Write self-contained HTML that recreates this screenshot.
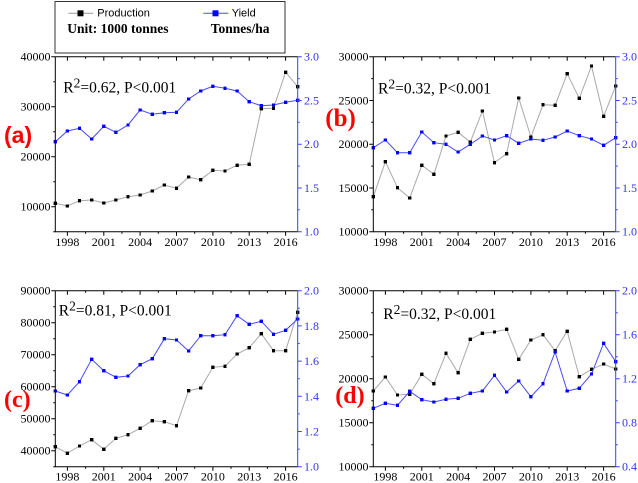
<!DOCTYPE html>
<html>
<head>
<meta charset="utf-8">
<style>
html,body{margin:0;padding:0;background:#fff;}
svg{display:block;}
.tk{font-family:"Liberation Serif",serif;font-size:12px;fill:#000;}
.tr{font-family:"Liberation Serif",serif;font-size:12px;fill:#3333ff;}
.r2{font-family:"Liberation Serif",serif;font-size:15.5px;fill:#000;}
</style>
</head>
<body>
<svg width="638" height="483" viewBox="0 0 638 483" xmlns="http://www.w3.org/2000/svg">
<defs>
<marker id="mk" markerWidth="3.4" markerHeight="3.4" refX="1.7" refY="1.7" markerUnits="userSpaceOnUse"><rect width="3.4" height="3.4" fill="#000"/></marker>
<marker id="mb" markerWidth="3.4" markerHeight="3.4" refX="1.7" refY="1.7" markerUnits="userSpaceOnUse"><rect width="3.4" height="3.4" fill="#0000ff"/></marker>
</defs>

<!-- Legend -->
<rect x="55" y="1.5" width="230" height="51.5" fill="#fff" stroke="#333" stroke-width="1"/>
<line x1="68.3" y1="13.3" x2="93.3" y2="13.3" stroke="#999" stroke-width="1"/>
<rect x="77.5" y="10.3" width="6" height="6" fill="#000"/>
<text x="97.3" y="16.7" font-family="Liberation Sans, sans-serif" font-size="11px" fill="#000">Production</text>
<line x1="203.3" y1="13.3" x2="228.3" y2="13.3" stroke="#4a4aff" stroke-width="1"/>
<rect x="212.5" y="10.3" width="6" height="6" fill="#0000ff"/>
<text x="231.7" y="16.7" font-family="Liberation Sans, sans-serif" font-size="11px" fill="#000">Yield</text>
<text x="67.3" y="33" font-family="Liberation Serif, serif" font-weight="bold" font-size="13.5px" fill="#000">Unit: 1000 tonnes</text>
<text x="210.7" y="33" font-family="Liberation Serif, serif" font-weight="bold" font-size="13.5px" fill="#000">Tonnes/ha</text>

<!-- ============ Panel (a) ============ -->
<g>
<polyline fill="none" stroke="#a9a9a9" stroke-width="1" marker-start="url(#mk)" marker-mid="url(#mk)" marker-end="url(#mk)" points="55.3,203.3 67.4,206 79.5,200.7 91.7,200 103.8,203 115.9,200 128,196.7 140.1,195 152.3,191 164.4,185 176.5,188.3 188.6,177 200.7,179.7 212.9,170.3 225,171 237.1,165.3 249.2,164.3 261.3,108.7 273.5,108.3 285.6,72.3 297.7,86.7"/>
<polyline fill="none" stroke="#4a4aff" stroke-width="1" marker-start="url(#mb)" marker-mid="url(#mb)" marker-end="url(#mb)" points="55.3,141.7 67.4,131 79.5,128.3 91.7,139 103.8,126.3 115.9,132.3 128,125 140.1,110 152.3,114.3 164.4,112.7 176.5,112.3 188.6,99 200.7,91 212.9,86.3 225,88.3 237.1,91 249.2,101.7 261.3,105.7 273.5,105 285.6,102.3 297.7,100.3"/>
<path d="M55.3 56.7V231.7H297.7 M55.3 56.7H297.7" fill="none" stroke="#000" stroke-width="1"/>
<path d="M51.3 206.7H55.3M51.3 156.7H55.3M51.3 106.7H55.3M51.3 56.7H55.3M53.3 231.7H55.3M53.3 181.7H55.3M53.3 131.7H55.3M53.3 81.7H55.3
M67.4 231.7V235.7M103.8 231.7V235.7M140.1 231.7V235.7M176.5 231.7V235.7M212.9 231.7V235.7M249.2 231.7V235.7M285.6 231.7V235.7
M85.6 231.7V233.7M121.95 231.7V233.7M158.3 231.7V233.7M194.7 231.7V233.7M231.05 231.7V233.7M267.4 231.7V233.7
M67.4 56.7V60.7M103.8 56.7V60.7M140.1 56.7V60.7M176.5 56.7V60.7M212.9 56.7V60.7M249.2 56.7V60.7M285.6 56.7V60.7
M85.6 56.7V58.7M121.95 56.7V58.7M158.3 56.7V58.7M194.7 56.7V58.7M231.05 56.7V58.7M267.4 56.7V58.7" fill="none" stroke="#000" stroke-width="1"/>
<path d="M297.7 56.7V231.7M297.7 231.7H301.7M297.7 187.95H301.7M297.7 144.2H301.7M297.7 100.45H301.7M297.7 56.7H301.7M297.7 209.8H299.7M297.7 166.1H299.7M297.7 122.3H299.7M297.7 78.6H299.7" fill="none" stroke="#3c3cff" stroke-width="1"/>
<g class="tk" text-anchor="end">
<text x="50.5" y="60.7">40000</text><text x="50.5" y="110.7">30000</text><text x="50.5" y="160.7">20000</text><text x="50.5" y="210.7">10000</text>
</g>
<g class="tr">
<text x="304" y="60.7">3.0</text><text x="304" y="104.5">2.5</text><text x="304" y="148.2">2.0</text><text x="304" y="192">1.5</text><text x="304" y="235.7">1.0</text>
</g>
<g class="tk" text-anchor="middle">
<text x="67.4" y="246">1998</text><text x="103.8" y="246">2001</text><text x="140.1" y="246">2004</text><text x="176.5" y="246">2007</text><text x="212.9" y="246">2010</text><text x="249.2" y="246">2013</text><text x="285.6" y="246">2016</text>
</g>
<text class="r2" x="63.3" y="92.3">R<tspan dy="-5" font-size="13.5px">2</tspan><tspan dy="5">=0.62, P&lt;0.001</tspan></text>
<text x="4" y="143" font-family="Liberation Sans, sans-serif" font-weight="bold" font-size="23px" fill="#ff0000">(a)</text>
</g>

<!-- ============ Panel (b) ============ -->
<g transform="translate(318,0)">
<polyline fill="none" stroke="#a9a9a9" stroke-width="1" marker-start="url(#mk)" marker-mid="url(#mk)" marker-end="url(#mk)" points="55.3,196.7 67.4,161.7 79.5,187.7 91.7,198 103.8,165.3 115.9,174.3 128,136 140.1,132.3 152.3,142 164.4,111 176.5,162.7 188.6,153.7 200.7,98 212.9,137 225,104.7 237.1,105.3 249.2,73.7 261.3,98.3 273.5,66 285.6,116.3 297.7,86"/>
<polyline fill="none" stroke="#4a4aff" stroke-width="1" marker-start="url(#mb)" marker-mid="url(#mb)" marker-end="url(#mb)" points="55.3,147.7 67.4,140 79.5,152.7 91.7,152.7 103.8,132 115.9,142.7 128,144.3 140.1,152 152.3,144.3 164.4,136 176.5,140 188.6,135.7 200.7,143.3 212.9,139 225,140.3 237.1,137 249.2,131 261.3,135.7 273.5,139 285.6,145.3 297.7,137.7"/>
<path d="M55.3 56.7V231.7H297.7 M55.3 56.7H297.7" fill="none" stroke="#000" stroke-width="1"/>
<path d="M51.3 231.7H55.3M51.3 187.95H55.3M51.3 144.2H55.3M51.3 100.45H55.3M51.3 56.7H55.3M53.3 209.8H55.3M53.3 166.1H55.3M53.3 122.3H55.3M53.3 78.6H55.3
M67.4 231.7V235.7M103.8 231.7V235.7M140.1 231.7V235.7M176.5 231.7V235.7M212.9 231.7V235.7M249.2 231.7V235.7M285.6 231.7V235.7
M85.6 231.7V233.7M121.95 231.7V233.7M158.3 231.7V233.7M194.7 231.7V233.7M231.05 231.7V233.7M267.4 231.7V233.7
M67.4 56.7V60.7M103.8 56.7V60.7M140.1 56.7V60.7M176.5 56.7V60.7M212.9 56.7V60.7M249.2 56.7V60.7M285.6 56.7V60.7
M85.6 56.7V58.7M121.95 56.7V58.7M158.3 56.7V58.7M194.7 56.7V58.7M231.05 56.7V58.7M267.4 56.7V58.7" fill="none" stroke="#000" stroke-width="1"/>
<path d="M297.7 56.7V231.7M297.7 231.7H301.7M297.7 187.95H301.7M297.7 144.2H301.7M297.7 100.45H301.7M297.7 56.7H301.7M297.7 209.8H299.7M297.7 166.1H299.7M297.7 122.3H299.7M297.7 78.6H299.7" fill="none" stroke="#3c3cff" stroke-width="1"/>
<g class="tk" text-anchor="end">
<text x="50.5" y="60.7">30000</text><text x="50.5" y="104.5">25000</text><text x="50.5" y="148.2">20000</text><text x="50.5" y="192">15000</text><text x="50.5" y="235.7">10000</text>
</g>
<g class="tr">
<text x="304" y="60.7">3.0</text><text x="304" y="104.5">2.5</text><text x="304" y="148.2">2.0</text><text x="304" y="192">1.5</text><text x="304" y="235.7">1.0</text>
</g>
<g class="tk" text-anchor="middle">
<text x="67.4" y="246">1998</text><text x="103.8" y="246">2001</text><text x="140.1" y="246">2004</text><text x="176.5" y="246">2007</text><text x="212.9" y="246">2010</text><text x="249.2" y="246">2013</text><text x="285.6" y="246">2016</text>
</g>
<text class="r2" x="60" y="93.3">R<tspan dy="-5" font-size="13.5px">2</tspan><tspan dy="5">=0.32, P&lt;0.001</tspan></text>
<text x="7.3" y="126" font-family="Liberation Serif, serif" font-weight="bold" font-size="25px" fill="#ff0000">(b)</text>
</g>

<!-- ============ Panel (c) ============ -->
<g>
<polyline fill="none" stroke="#a9a9a9" stroke-width="1" marker-start="url(#mk)" marker-mid="url(#mk)" marker-end="url(#mk)" points="55.3,446.7 67.4,453.3 79.5,446 91.7,439.7 103.8,449.3 115.9,438.3 128,434.7 140.1,428.3 152.3,420.7 164.4,421.7 176.5,425.7 188.6,390.7 200.7,388 212.9,367.3 225,366.3 237.1,354 249.2,347.7 261.3,333.7 273.5,350.7 285.6,350.7 297.7,312.3"/>
<polyline fill="none" stroke="#4a4aff" stroke-width="1" marker-start="url(#mb)" marker-mid="url(#mb)" marker-end="url(#mb)" points="55.3,391 67.4,395 79.5,381.7 91.7,359.3 103.8,370.7 115.9,377.3 128,376 140.1,364.7 152.3,358.7 164.4,338.7 176.5,340 188.6,351 200.7,335.7 212.9,335.7 225,334.7 237.1,315.7 249.2,324.3 261.3,321.3 273.5,334.3 285.6,330.3 297.7,319"/>
<path d="M55.3 290.7V466.7H297.7 M55.3 290.7H297.7" fill="none" stroke="#000" stroke-width="1"/>
<path d="M51.3 450.7H55.3M51.3 418.7H55.3M51.3 386.7H55.3M51.3 354.7H55.3M51.3 322.7H55.3M51.3 290.7H55.3M53.3 466.7H55.3M53.3 434.7H55.3M53.3 402.7H55.3M53.3 370.7H55.3M53.3 338.7H55.3M53.3 306.7H55.3
M67.4 466.7V470.7M103.8 466.7V470.7M140.1 466.7V470.7M176.5 466.7V470.7M212.9 466.7V470.7M249.2 466.7V470.7M285.6 466.7V470.7
M85.6 466.7V468.7M121.95 466.7V468.7M158.3 466.7V468.7M194.7 466.7V468.7M231.05 466.7V468.7M267.4 466.7V468.7
M67.4 290.7V294.7M103.8 290.7V294.7M140.1 290.7V294.7M176.5 290.7V294.7M212.9 290.7V294.7M249.2 290.7V294.7M285.6 290.7V294.7
M85.6 290.7V292.7M121.95 290.7V292.7M158.3 290.7V292.7M194.7 290.7V292.7M231.05 290.7V292.7M267.4 290.7V292.7" fill="none" stroke="#000" stroke-width="1"/>
<path d="M297.7 290.7V466.7M297.7 466.7H301.7M297.7 431.5H301.7M297.7 396.3H301.7M297.7 361.1H301.7M297.7 325.9H301.7M297.7 290.7H301.7M297.7 449.1H299.7M297.7 413.9H299.7M297.7 378.7H299.7M297.7 343.5H299.7M297.7 308.3H299.7" fill="none" stroke="#3c3cff" stroke-width="1"/>
<g class="tk" text-anchor="end">
<text x="50.5" y="294.7">90000</text><text x="50.5" y="326.7">80000</text><text x="50.5" y="358.7">70000</text><text x="50.5" y="390.7">60000</text><text x="50.5" y="422.7">50000</text><text x="50.5" y="454.7">40000</text>
</g>
<g class="tr">
<text x="304" y="294.7">2.0</text><text x="304" y="329.9">1.8</text><text x="304" y="365.1">1.6</text><text x="304" y="400.3">1.4</text><text x="304" y="435.5">1.2</text><text x="304" y="470.7">1.0</text>
</g>
<g class="tk" text-anchor="middle">
<text x="67.4" y="480.5">1998</text><text x="103.8" y="480.5">2001</text><text x="140.1" y="480.5">2004</text><text x="176.5" y="480.5">2007</text><text x="212.9" y="480.5">2010</text><text x="249.2" y="480.5">2013</text><text x="285.6" y="480.5">2016</text>
</g>
<text class="r2" x="58.8" y="315.5">R<tspan dy="-5" font-size="13.5px">2</tspan><tspan dy="5">=0.81, P&lt;0.001</tspan></text>
<text x="4" y="407" font-family="Liberation Serif, serif" font-weight="bold" font-size="24px" fill="#ff0000">(c)</text>
</g>

<!-- ============ Panel (d) ============ -->
<g transform="translate(318,0)">
<polyline fill="none" stroke="#a9a9a9" stroke-width="1" marker-start="url(#mk)" marker-mid="url(#mk)" marker-end="url(#mk)" points="55.3,391 67.4,377 79.5,395 91.7,394.3 103.8,374.3 115.9,383.7 128,353.3 140.1,372.7 152.3,339.3 164.4,333.3 176.5,332 188.6,329.3 200.7,359.3 212.9,340 225,334.7 237.1,350.7 249.2,331.3 261.3,376.7 273.5,369.3 285.6,364 297.7,369"/>
<polyline fill="none" stroke="#4a4aff" stroke-width="1" marker-start="url(#mb)" marker-mid="url(#mb)" marker-end="url(#mb)" points="55.3,408.3 67.4,403.3 79.5,405.3 91.7,391.3 103.8,399.7 115.9,402 128,399.3 140.1,398.3 152.3,393.3 164.4,391 176.5,375.3 188.6,392 200.7,381 212.9,396.7 225,383.7 237.1,352 249.2,391 261.3,388.3 273.5,374 285.6,343.3 297.7,361.7"/>
<path d="M55.3 290.7V466.7H297.7 M55.3 290.7H297.7" fill="none" stroke="#000" stroke-width="1"/>
<path d="M51.3 466.7H55.3M51.3 422.7H55.3M51.3 378.7H55.3M51.3 334.7H55.3M51.3 290.7H55.3M53.3 444.7H55.3M53.3 400.7H55.3M53.3 356.7H55.3M53.3 312.7H55.3
M67.4 466.7V470.7M103.8 466.7V470.7M140.1 466.7V470.7M176.5 466.7V470.7M212.9 466.7V470.7M249.2 466.7V470.7M285.6 466.7V470.7
M85.6 466.7V468.7M121.95 466.7V468.7M158.3 466.7V468.7M194.7 466.7V468.7M231.05 466.7V468.7M267.4 466.7V468.7
M67.4 290.7V294.7M103.8 290.7V294.7M140.1 290.7V294.7M176.5 290.7V294.7M212.9 290.7V294.7M249.2 290.7V294.7M285.6 290.7V294.7
M85.6 290.7V292.7M121.95 290.7V292.7M158.3 290.7V292.7M194.7 290.7V292.7M231.05 290.7V292.7M267.4 290.7V292.7" fill="none" stroke="#000" stroke-width="1"/>
<path d="M297.7 290.7V466.7M297.7 466.7H301.7M297.7 422.7H301.7M297.7 378.7H301.7M297.7 334.7H301.7M297.7 290.7H301.7M297.7 444.7H299.7M297.7 400.7H299.7M297.7 356.7H299.7M297.7 312.7H299.7" fill="none" stroke="#3c3cff" stroke-width="1"/>
<g class="tk" text-anchor="end">
<text x="50.5" y="294.7">30000</text><text x="50.5" y="338.7">25000</text><text x="50.5" y="382.7">20000</text><text x="50.5" y="426.7">15000</text><text x="50.5" y="470.7">10000</text>
</g>
<g class="tr">
<text x="304" y="294.7">2.0</text><text x="304" y="338.7">1.6</text><text x="304" y="382.7">1.2</text><text x="304" y="426.7">0.8</text><text x="304" y="470.7">0.4</text>
</g>
<g class="tk" text-anchor="middle">
<text x="67.4" y="480.5">1998</text><text x="103.8" y="480.5">2001</text><text x="140.1" y="480.5">2004</text><text x="176.5" y="480.5">2007</text><text x="212.9" y="480.5">2010</text><text x="249.2" y="480.5">2013</text><text x="285.6" y="480.5">2016</text>
</g>
<text class="r2" x="65.3" y="319">R<tspan dy="-5" font-size="13.5px">2</tspan><tspan dy="5">=0.32, P&lt;0.001</tspan></text>
<text x="17.3" y="403" font-family="Liberation Serif, serif" font-weight="bold" font-size="24px" fill="#ff0000">(d)</text>
</g>
</svg>
</body>
</html>
